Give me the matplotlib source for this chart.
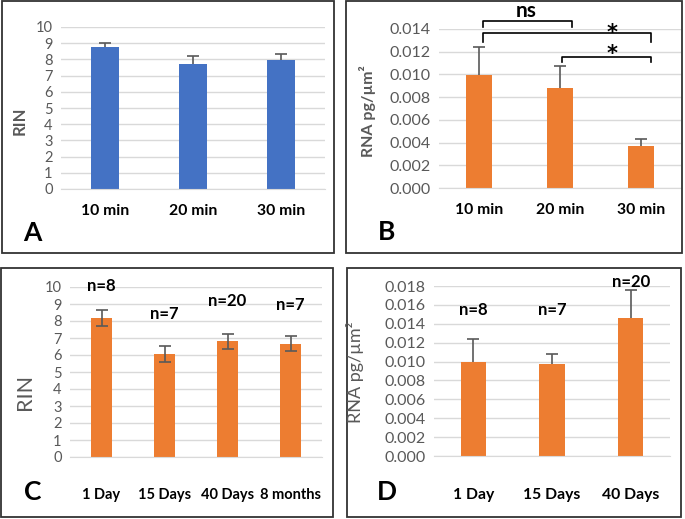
import matplotlib
matplotlib.use("Agg")
import matplotlib.pyplot as plt
from matplotlib.patches import Rectangle
import numpy as np

plt.rcParams["font.family"] = ["Lato", "DejaVu Sans"]

# ── data ────────────────────────────────────────────────────────────────────
a_labels = ["10 min", "20 min", "30 min"]
a_rin = [8.77, 7.70, 7.95]
a_err = [0.27, 0.54, 0.41]

b_labels = ["10 min", "20 min", "30 min"]
b_rna = [0.00995, 0.00880, 0.00370]
b_err = [0.00244, 0.00197, 0.00059]

c_labels = ["1 Day", "15 Days", "40 Days", "8 months"]
c_rin = [8.18, 6.07, 6.81, 6.67]
c_err = [0.47, 0.46, 0.45, 0.43]
c_n = ["n=8", "n=7", "n=20", "n=7"]
c_n_y = [10.04, 8.43, 9.16, 8.92]

d_labels = ["1 Day", "15 Days", "40 Days"]
d_rna = [0.00992, 0.00978, 0.01461]
d_err = [0.00247, 0.00105, 0.00300]
d_n = ["n=8", "n=7", "n=20"]
d_n_y = [0.01546, 0.01546, 0.01846]

# significance brackets in panel B: (x0, x1, top, tick bottom, label, label y, label x)
b_brackets = [
    (0.05, 1.15, 0.01470, 0.01418, "ns", 0.01560, 0.58),
    (0.05, 2.13, 0.01365, 0.01286, "*", 0.01352, 1.65),
    (1.03, 2.13, 0.01153, 0.01109, "*", 0.01167, 1.65),
]

BLUE = "#4472C4"
ORANGE = "#ED7D31"
GRID = "#D9D9D9"
TXT = "#595959"
ERR = "#595959"

W, H = 685, 519
fig = plt.figure(figsize=(W / 100, H / 100), dpi=100)


def px_axes(left, right, top, bottom):
    return fig.add_axes([left / W, 1 - bottom / H, (right - left) / W, (bottom - top) / H])


def box(x0, y0, x1, y1):
    fig.add_artist(Rectangle((x0 / W, 1 - y1 / H), (x1 - x0) / W, (y1 - y0) / H,
                             transform=fig.transFigure, fill=False,
                             edgecolor="#333333", lw=1.3))


def ftext(x, y, s, **kw):
    fig.text(x / W, 1 - y / H, s, **kw)


def style(ax, ylim, yticks, fmt, tick_fs, xlabels, xpad, xfs=11.3):
    ax.set_ylim(*ylim)
    ax.set_yticks(yticks)
    ax.set_yticklabels([fmt.format(t) for t in yticks], fontsize=tick_fs, color=TXT)
    ax.set_xticks(np.arange(len(xlabels)))
    ax.set_xticklabels(xlabels, fontsize=xfs, fontweight="bold", color="black")
    ax.set_xlim(-0.5, len(xlabels) - 0.5)
    ax.tick_params(length=0)
    ax.tick_params(axis="x", pad=xpad)
    ax.tick_params(axis="y", pad=6)
    for s in ["top", "right", "left"]:
        ax.spines[s].set_visible(False)
    ax.spines["bottom"].set_color(GRID)
    ax.grid(axis="y", color=GRID, lw=1)
    ax.set_axisbelow(True)


def up_err(ax, x, vals, errs):
    tops = np.array(vals) + np.array(errs)
    ax.vlines(x, vals, tops, color=ERR, lw=1.2, zorder=3)
    ax.plot(x, tops, ls="none", marker="_", ms=8, mew=1.2, color=ERR, zorder=3)


# ── A ───────────────────────────────────────────────────────────────────────
box(2, 1, 334, 253)
ax = px_axes(61, 325, 27, 189)
x = np.arange(len(a_labels))
ax.bar(x, a_rin, 0.31, color=BLUE, zorder=2)
up_err(ax, x, a_rin, a_err)
style(ax, (0, 10), range(0, 11), "{:d}", 10.5, a_labels, 11)
ftext(20, 121, "RIN", rotation=90, ha="center", va="center",
      fontsize=12, fontweight="bold", color=TXT)
ftext(32, 233, "A", ha="center", va="center", fontsize=19, fontweight="bold")

# ── B ───────────────────────────────────────────────────────────────────────
box(346, 1, 682, 253)
ax = px_axes(439, 681, 29, 188)
x = np.arange(len(b_labels))
ax.bar(x, b_rna, 0.32, color=ORANGE, zorder=2)
up_err(ax, x, b_rna, b_err)
style(ax, (0, 0.014), np.arange(0, 0.0141, 0.002), "{:.3f}", 11.5, b_labels, 11)
for x0, x1, top, bot, lab, ly, lx in b_brackets:
    ax.plot([x0, x0, x1, x1], [bot, top, top, bot], color="black", lw=1.2,
            clip_on=False, zorder=4)
    if lab == "ns":
        ax.text(lx, ly, lab, ha="center", va="center", fontsize=15,
                fontweight="bold", clip_on=False)
    else:
        ax.text(lx, ly + 0.0001, lab, ha="center", va="center", fontsize=15,
                fontweight="bold", family="DejaVu Sans", clip_on=False)
ftext(368, 111, "RNA pg/µm²", rotation=90, ha="center", va="center",
      fontsize=11.5, fontweight="bold", color=TXT)
ftext(387, 232, "B", ha="center", va="center", fontsize=19, fontweight="bold")

# ── C ───────────────────────────────────────────────────────────────────────
box(1, 268, 333, 517)
ax = px_axes(70, 322, 287, 457)
x = np.arange(len(c_labels))
ax.bar(x, c_rin, 0.32, color=ORANGE, zorder=2)
ax.errorbar(x, c_rin, yerr=c_err, fmt="none", ecolor=ERR, elinewidth=1.2,
            capsize=4, capthick=1.2, zorder=3)
for xi, lab, ly in zip(x, c_n, c_n_y):
    ax.text(xi, ly, lab, ha="center", va="center", fontsize=12,
            fontweight="bold", clip_on=False)
style(ax, (0, 10), range(0, 11), "{:d}", 10.5, c_labels, 22, xfs=10.5)
ftext(25, 392, "RIN", rotation=90, ha="center", va="center", fontsize=15.5, color=TXT)
ftext(33, 492, "C", ha="center", va="center", fontsize=19, fontweight="bold")

# ── D ───────────────────────────────────────────────────────────────────────
box(347, 268, 681, 517)
ax = px_axes(434, 670, 286, 456)
x = np.arange(len(d_labels))
ax.bar(x, d_rna, 0.32, color=ORANGE, zorder=2)
up_err(ax, x, d_rna, d_err)
for xi, lab, ly in zip(x, d_n, d_n_y):
    ax.text(xi, ly, lab, ha="center", va="center", fontsize=12,
            fontweight="bold", clip_on=False)
style(ax, (0, 0.018), np.arange(0, 0.0181, 0.002), "{:.3f}", 11.5, d_labels, 23)
ftext(355, 372, "RNA pg/µm²", rotation=90, ha="center", va="center",
      fontsize=13, color=TXT)
ftext(387, 492, "D", ha="center", va="center", fontsize=19, fontweight="bold")

fig.savefig("out.png", dpi=100)
